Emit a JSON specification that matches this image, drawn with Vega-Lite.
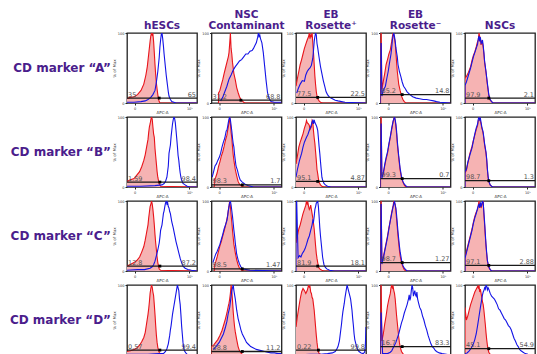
{
"$schema": "https://vega.github.io/schema/vega-lite/v6.json",
"padding": {"left": 9, "top": 9, "right": 0, "bottom": 0},
"bounds": "flush",
"data": {"values": [
{"k":"c","m":"A","t":"hESCs","s":"iso","x":[0,4,10,15,20,24,27,29,31,33,34,35,36,37,38,39,40,41,42,43,44,45,46,47,100],"y":[6,8,9,12,18,27,40,52,70,88,96,100,97,99,88,72,55,40,28,20,12,6,2,0,0]},
{"k":"c","m":"A","t":"hESCs","s":"ab","x":[0,10,20,26,30,34,37,40,42,44,46,47,48,49,50,51,52,53,54,55,56,57,58,59,60,62,64,67,70,100],"y":[1,1,2,3,5,8,12,18,30,45,65,80,90,98,100,92,82,70,60,50,40,32,24,16,10,5,2,1,0,0]},
{"k":"c","m":"A","t":"NSC|Contaminant","s":"iso","x":[10,10,12,14,16,18,20,22,24,25,26,27,28,29,30,32,34,36,38,40,42,44,46,48,100],"y":[0,14,18,26,33,42,50,58,66,72,85,100,78,70,58,42,33,22,15,9,5,3,1,0,0]},
{"k":"c","m":"A","t":"NSC|Contaminant","s":"ab","x":[13,16,19,22,25,28,31,34,37,40,43,46,49,52,55,58,60,62,64,66,67,68,69,70,72,74,76,78,80,82,85,90,100],"y":[3,8,16,24,34,40,47,52,56,60,62,66,70,70,74,75,78,82,86,94,100,95,97,92,86,72,52,32,15,7,2,1,1]},
{"k":"c","m":"A","t":"EB|Rosette⁺","s":"iso","x":[0,2,4,6,8,10,12,14,16,18,19,20,21,22,23,24,25,26,27,28,29,30,31,33,35,38,100],"y":[24,35,45,55,62,70,78,84,90,95,100,92,98,94,100,86,72,55,38,26,16,10,6,3,1,0,0]},
{"k":"c","m":"A","t":"EB|Rosette⁺","s":"ab","x":[1,3,6,9,12,14,16,18,20,22,24,25,26,27,28,29,30,31,32,33,35,37,39,41,43,45,48,52,56,60,65,70,100],"y":[14,20,27,32,31,40,45,48,50,54,64,75,88,95,100,97,85,79,72,65,52,42,32,24,16,12,8,6,4,3,2,1,0]},
{"k":"c","m":"A","t":"EB|Rosette⁻","s":"iso","x":[0,0,1,2,4,6,8,10,12,14,16,17,18,19,20,21,22,23,24,25,26,28,30,32,34,36,100],"y":[0,100,100,20,31,42,55,62,70,76,88,95,100,98,92,86,72,58,45,36,27,18,10,5,2,0,0]},
{"k":"c","m":"A","t":"EB|Rosette⁻","s":"ab","x":[0,0,1,2,4,7,9,11,13,15,16,17,18,19,20,21,22,23,24,25,27,29,31,33,35,38,42,46,51,56,61,66,71,76,80,85,100],"y":[0,85,85,10,18,24,35,45,58,70,79,90,96,100,95,88,79,72,66,55,45,38,30,24,21,16,12,9,7,6,5,5,4,3,2,1,0]},
{"k":"c","m":"A","t":"NSCs","s":"iso","x":[0,0,2,5,8,10,12,14,16,18,19,20,21,22,23,24,25,26,27,28,30,32,34,36,38,40,100],"y":[0,35,38,44,52,61,68,73,80,88,90,100,95,92,83,88,86,80,70,58,44,26,11,4,2,0,0]},
{"k":"c","m":"A","t":"NSCs","s":"ab","x":[0,0,2,5,8,10,12,14,16,18,19,20,21,22,23,24,25,26,27,28,30,32,34,36,38,40,100],"y":[0,25,30,40,50,58,66,72,78,84,92,96,88,94,85,86,90,82,72,60,45,28,12,5,2,0,0]},
{"k":"c","m":"B","t":"hESCs","s":"iso","x":[0,4,10,14,18,21,24,26,28,30,31,32,33,34,35,36,37,38,39,40,41,42,43,44,45,46,48,100],"y":[8,10,12,17,22,29,38,46,57,68,78,86,90,96,100,97,86,76,71,55,44,33,22,14,9,5,1,0]},
{"k":"c","m":"B","t":"hESCs","s":"ab","x":[0,20,40,50,53,55,57,59,60,62,63,64,65,66,67,68,69,70,71,72,73,74,75,76,77,78,80,83,86,90,100],"y":[1,1,2,3,5,8,14,30,48,60,72,81,90,96,100,98,92,81,70,58,45,38,28,20,14,10,5,3,1,0,0]},
{"k":"c","m":"B","t":"NSC|Contaminant","s":"iso","x":[4,4,6,8,10,12,14,16,18,20,22,23,24,25,26,27,28,29,30,31,32,34,36,38,40,42,45,100],"y":[0,10,14,20,29,36,44,50,58,67,74,80,86,92,100,90,78,70,57,46,38,25,16,8,4,2,0,0]},
{"k":"c","m":"B","t":"NSC|Contaminant","s":"ab","x":[1,3,5,7,9,11,13,15,17,19,21,22,23,24,25,26,27,28,29,30,31,32,33,34,35,37,39,41,44,48,52,60,100],"y":[14,22,30,33,38,42,48,57,64,70,80,81,86,92,97,100,96,88,80,70,62,57,46,38,30,24,16,10,7,4,2,0,0]},
{"k":"c","m":"B","t":"EB|Rosette⁺","s":"iso","x":[0,2,4,6,8,10,12,14,15,16,18,19,20,22,23,24,25,26,27,28,29,30,31,32,33,35,37,40,100],"y":[33,44,57,64,70,76,84,90,95,92,90,88,82,86,95,93,80,70,62,50,38,25,19,12,7,3,1,0,0]},
{"k":"c","m":"B","t":"EB|Rosette⁺","s":"ab","x":[0,2,5,8,10,12,15,17,19,21,23,24,25,26,27,28,29,30,31,32,33,34,35,36,37,38,40,42,45,50,100],"y":[14,25,38,48,57,64,71,75,81,86,93,95,90,96,92,90,88,85,81,70,58,48,36,25,14,10,5,3,1,0,0]},
{"k":"c","m":"B","t":"EB|Rosette⁻","s":"iso","x":[0,0,1,2,4,6,8,10,12,14,16,18,19,20,21,22,23,24,25,26,27,28,30,32,34,36,100],"y":[0,100,100,15,19,30,40,48,60,71,82,93,98,100,95,86,76,62,52,42,33,24,13,7,3,0,0]},
{"k":"c","m":"B","t":"EB|Rosette⁻","s":"ab","x":[0,0,1,2,4,6,8,10,12,14,16,18,19,20,21,22,23,24,25,26,27,28,30,32,34,36,38,100],"y":[0,90,90,12,20,32,42,50,62,72,84,94,97,100,96,90,80,66,55,45,36,27,15,8,4,2,0,0]},
{"k":"c","m":"B","t":"NSCs","s":"iso","x":[0,0,2,4,7,10,12,14,16,18,19,20,21,22,23,24,25,26,27,28,30,31,32,33,34,36,38,40,100],"y":[0,20,24,34,48,58,67,74,82,88,95,96,100,94,90,84,81,76,68,60,48,38,24,14,8,3,1,0,0]},
{"k":"c","m":"B","t":"NSCs","s":"ab","x":[0,0,2,4,7,10,12,14,16,18,19,20,21,22,23,24,25,26,27,28,30,31,32,33,34,36,38,40,100],"y":[0,22,25,35,46,56,66,76,84,90,97,100,96,98,92,86,82,78,70,62,50,40,26,15,8,3,1,0,0]},
{"k":"c","m":"C","t":"hESCs","s":"iso","x":[0,4,10,14,18,21,24,26,28,30,31,32,33,34,35,36,37,38,39,40,41,42,43,44,45,46,48,100],"y":[7,9,12,15,20,27,35,44,55,66,76,84,92,95,100,96,88,78,66,52,40,30,20,12,7,3,1,0]},
{"k":"c","m":"C","t":"hESCs","s":"ab","x":[0,15,25,33,36,38,40,42,44,46,47,48,50,51,52,53,54,55,56,57,58,59,60,61,62,63,64,66,68,70,72,74,76,78,80,83,87,92,100],"y":[1,2,2,4,6,9,14,22,30,40,48,58,66,74,82,86,92,97,100,96,98,92,90,85,82,76,70,62,52,42,34,26,18,12,7,4,2,1,0]},
{"k":"c","m":"C","t":"NSC|Contaminant","s":"iso","x":[4,4,6,8,10,12,14,16,18,20,22,23,24,25,26,27,28,29,30,31,32,34,36,38,40,42,45,100],"y":[0,8,13,20,28,36,42,50,57,65,74,79,87,93,100,92,80,70,58,48,38,26,16,9,4,2,0,0]},
{"k":"c","m":"C","t":"NSC|Contaminant","s":"ab","x":[2,4,6,8,10,12,14,16,18,20,22,23,24,25,26,27,28,29,30,31,32,33,34,35,36,38,40,42,45,50,55,100],"y":[12,18,24,28,33,38,45,52,60,66,72,78,86,92,98,100,94,86,78,68,58,50,40,32,24,16,10,6,3,2,1,0]},
{"k":"c","m":"C","t":"EB|Rosette⁺","s":"iso","x":[0,2,4,6,8,10,12,14,15,16,17,18,19,20,21,22,23,24,25,26,27,28,29,30,31,32,33,35,37,40,100],"y":[40,50,60,66,74,82,88,94,100,96,98,92,88,90,94,88,82,76,68,60,48,36,25,18,12,7,4,2,1,0,0]},
{"k":"c","m":"C","t":"EB|Rosette⁺","s":"ab","x":[0,0,1,3,5,7,9,11,13,15,17,19,21,23,24,25,26,27,28,29,30,31,32,33,34,35,36,37,38,39,40,42,44,48,55,100],"y":[0,100,100,19,22,20,25,28,32,38,45,50,58,66,72,70,78,88,92,97,98,100,92,78,62,50,40,30,20,14,9,5,3,1,0,0]},
{"k":"c","m":"C","t":"EB|Rosette⁻","s":"iso","x":[0,0,1,2,4,6,8,10,12,14,16,18,19,20,21,22,23,24,25,26,27,28,30,32,34,36,100],"y":[0,100,100,14,20,30,40,50,62,72,84,93,100,97,95,86,74,62,50,40,30,22,12,6,2,0,0]},
{"k":"c","m":"C","t":"EB|Rosette⁻","s":"ab","x":[0,0,1,2,4,6,8,10,12,14,16,18,19,20,21,22,23,24,25,26,27,28,30,32,34,36,38,100],"y":[0,95,95,10,18,28,38,48,60,72,82,92,96,100,94,90,80,68,56,46,36,28,16,8,4,2,0,0]},
{"k":"c","m":"C","t":"NSCs","s":"iso","x":[0,0,2,5,8,10,12,14,16,18,20,21,22,23,24,25,26,27,28,29,30,31,32,34,36,38,100],"y":[0,20,28,40,52,60,70,78,84,88,100,92,96,90,94,98,100,80,66,50,36,24,14,5,2,0,0]},
{"k":"c","m":"C","t":"NSCs","s":"ab","x":[0,0,2,5,8,10,12,14,16,18,20,21,22,23,24,25,26,27,28,29,30,31,32,34,36,38,100],"y":[0,18,26,38,50,58,68,76,82,90,96,90,98,92,96,100,98,84,70,54,38,26,15,6,2,0,0]},
{"k":"c","m":"D","t":"hESCs","s":"iso","x":[0,5,10,14,18,21,24,26,28,30,31,32,33,34,35,36,37,38,39,40,41,42,43,44,45,46,48,50,100],"y":[5,6,8,10,14,19,25,32,45,58,66,76,88,95,100,97,90,85,72,58,42,28,18,11,7,4,1,0,0]},
{"k":"c","m":"D","t":"hESCs","s":"ab","x":[0,30,45,52,55,57,59,60,61,62,63,64,65,66,67,68,69,70,71,72,73,74,75,76,77,78,79,80,81,82,84,86,90,100],"y":[1,1,2,2,5,9,16,22,28,36,42,50,58,64,70,76,82,88,94,100,96,92,80,72,58,42,30,18,10,6,3,1,0,0]},
{"k":"c","m":"D","t":"NSC|Contaminant","s":"iso","x":[0,0,3,6,9,12,15,18,20,22,24,25,26,27,28,29,30,31,32,33,34,36,38,40,42,44,46,100],"y":[0,12,14,18,22,28,35,45,52,60,70,74,80,88,100,92,78,62,50,40,33,22,12,6,3,1,0,0]},
{"k":"c","m":"D","t":"NSC|Contaminant","s":"ab","x":[2,5,8,11,14,17,20,22,24,26,27,28,29,30,31,32,33,34,35,36,37,38,40,42,44,46,48,50,53,56,60,64,68,72,76,80,85,90,95,100],"y":[8,10,14,18,24,30,40,48,60,68,76,84,92,96,100,92,86,80,72,64,58,52,44,36,30,26,22,18,15,12,10,8,7,6,5,4,3,3,2,2]},
{"k":"c","m":"D","t":"EB|Rosette⁺","s":"iso","x":[0,2,4,6,8,10,12,14,16,17,18,19,20,21,22,23,24,25,26,27,28,29,30,31,32,33,35,37,100],"y":[40,55,68,80,90,95,92,88,92,96,100,97,98,90,88,82,80,72,64,52,40,28,18,10,5,2,1,0,0]},
{"k":"c","m":"D","t":"EB|Rosette⁺","s":"ab","x":[0,20,35,45,52,56,58,60,62,63,64,65,66,67,68,69,70,71,72,73,74,75,76,77,78,79,80,81,82,83,84,86,88,90,93,96,98,99,100],"y":[0,1,1,2,3,5,8,12,20,28,36,44,54,62,68,74,82,88,94,100,96,92,88,84,80,72,64,52,42,30,22,14,8,5,3,2,4,12,40]},
{"k":"c","m":"D","t":"EB|Rosette⁻","s":"iso","x":[0,0,1,2,4,6,8,10,12,14,15,16,17,18,19,20,21,22,23,24,25,26,27,28,30,32,34,36,100],"y":[0,100,100,20,30,44,56,70,80,88,96,100,96,98,92,88,80,68,56,46,36,26,18,12,5,2,0,0,0]},
{"k":"c","m":"D","t":"EB|Rosette⁻","s":"ab","x":[0,0,1,3,6,10,14,16,18,20,22,24,26,28,30,32,34,36,38,40,41,42,43,44,45,46,47,48,49,50,51,52,53,54,55,56,58,60,62,64,66,68,70,72,74,76,78,80,84,88,94,100],"y":[0,60,60,2,2,2,4,6,10,14,18,24,30,38,46,52,60,66,72,80,86,78,82,92,100,96,84,88,92,86,84,90,80,76,72,68,64,56,50,42,36,28,22,16,12,10,7,5,3,2,1,0]},
{"k":"c","m":"D","t":"NSCs","s":"iso","x":[0,0,2,4,6,8,10,12,14,16,18,19,20,21,22,23,24,25,26,27,28,29,30,31,32,33,34,36,38,100],"y":[0,68,50,56,64,72,78,84,90,94,98,96,100,90,94,88,82,76,72,64,54,44,32,22,14,8,4,1,0,0]},
{"k":"c","m":"D","t":"NSCs","s":"ab","x":[0,3,6,9,12,14,16,18,20,22,24,25,26,27,28,29,30,31,32,33,34,36,38,40,42,44,46,48,50,52,54,56,58,60,62,64,66,68,70,72,74,76,78,80,83,86,90,95,100],"y":[2,3,6,10,16,22,30,42,55,68,80,86,90,92,96,94,100,98,93,96,94,88,84,82,80,76,72,66,64,60,56,52,50,46,42,40,36,30,24,20,15,12,8,6,4,2,1,0,0]},
{"k":"g","m":"A","t":"hESCs","gx":46,"gy":7,"L":"35","R":"65"},
{"k":"g","m":"A","t":"NSC|Contaminant","gx":42,"gy":4,"L":"31.2","R":"68.8"},
{"k":"g","m":"A","t":"EB|Rosette⁺","gx":31,"gy":8,"L":"77.5","R":"22.5"},
{"k":"g","m":"A","t":"EB|Rosette⁻","gx":31,"gy":12,"L":"85.2","R":"14.8"},
{"k":"g","m":"A","t":"NSCs","gx":34,"gy":7,"L":"97.9","R":"2.1"},
{"k":"g","m":"B","t":"hESCs","gx":47,"gy":7,"L":"1.59","R":"98.4"},
{"k":"g","m":"B","t":"NSC|Contaminant","gx":44,"gy":3,"L":"98.3","R":"1.7"},
{"k":"g","m":"B","t":"EB|Rosette⁺","gx":31,"gy":8,"L":"95.1","R":"4.87"},
{"k":"g","m":"B","t":"EB|Rosette⁻","gx":31,"gy":12,"L":"99.3","R":"0.7"},
{"k":"g","m":"B","t":"NSCs","gx":34,"gy":9,"L":"98.7","R":"1.3"},
{"k":"g","m":"C","t":"hESCs","gx":47,"gy":7,"L":"12.8","R":"87.2"},
{"k":"g","m":"C","t":"NSC|Contaminant","gx":44,"gy":3,"L":"98.5","R":"1.47"},
{"k":"g","m":"C","t":"EB|Rosette⁺","gx":31,"gy":7,"L":"81.9","R":"18.1"},
{"k":"g","m":"C","t":"EB|Rosette⁻","gx":31,"gy":12,"L":"98.7","R":"1.27"},
{"k":"g","m":"C","t":"NSCs","gx":34,"gy":8,"L":"97.1","R":"2.88"},
{"k":"g","m":"D","t":"hESCs","gx":47,"gy":7,"L":"0.57","R":"99.4"},
{"k":"g","m":"D","t":"NSC|Contaminant","gx":44,"gy":5,"L":"88.8","R":"11.2"},
{"k":"g","m":"D","t":"EB|Rosette⁺","gx":32,"gy":7,"L":"0.22","R":"99.8"},
{"k":"g","m":"D","t":"EB|Rosette⁻","gx":31,"gy":12,"L":"16.7","R":"83.3"},
{"k":"g","m":"D","t":"NSCs","gx":34,"gy":9,"L":"45.1","R":"54.9"}
]},
"facet": {
  "row": {"field": "m", "type": "nominal", "title": null,
    "header": {"labelAngle": 0, "labelOrient": "left", "labelAlign": "left", "labelExpr": "'CD marker “' + datum.value + '”'", "labelFont": "DejaVu Sans", "labelFontWeight": "bold", "labelFontSize": 12, "labelColor": "#4b1d8c", "labelPadding": 16}},
  "column": {"field": "t", "type": "nominal", "title": null, "sort": ["hESCs", "NSC|Contaminant", "EB|Rosette⁺", "EB|Rosette⁻", "NSCs"],
    "header": {"labelOrient": "top", "labelExpr": "split(datum.value, '|')", "labelFont": "DejaVu Sans", "labelFontWeight": "bold", "labelFontSize": 10.5, "labelLineHeight": 11, "labelColor": "#4b1d8c", "labelBaseline": "bottom", "labelPadding": -8}}
},
"spacing": {"row": 14, "column": 14.5},
"resolve": {"axis": {"x": "independent", "y": "independent"}},
"spec": {
  "width": 70, "height": 70,
  "layer": [
    {"transform": [{"filter": "datum.k == 'c' && datum.s == 'iso'"}, {"flatten": ["x", "y"]}],
     "mark": {"type": "area", "color": "#f6b3b3", "clip": true},
     "encoding": {
       "x": {"field": "x", "type": "quantitative", "scale": {"domain": [0, 100], "nice": false},
         "axis": {"values": [11, 21, 44, 67, 89], "labelExpr": "datum.value == 11 ? '0' : datum.value == 21 ? '10²' : datum.value == 44 ? '10³' : datum.value == 67 ? '10⁴' : '10⁵'", "title": "APC-A"}},
       "y": {"field": "y", "type": "quantitative", "scale": {"domain": [0, 100], "nice": false},
         "axis": {"values": [0, 20, 40, 60, 80, 100], "title": "% of Max"}},
       "order": {"value": null}}},
    {"transform": [{"filter": "datum.k == 'c' && datum.s == 'iso'"}, {"flatten": ["x", "y"]}],
     "mark": {"type": "line", "color": "#e8141b", "strokeWidth": 1.1, "clip": true},
     "encoding": {"x": {"field": "x", "type": "quantitative"}, "y": {"field": "y", "type": "quantitative"}, "order": {"value": null}}},
    {"transform": [{"filter": "datum.k == 'c' && datum.s == 'ab'"}, {"flatten": ["x", "y"]}],
     "mark": {"type": "line", "color": "#1414e6", "strokeWidth": 1.1, "clip": true},
     "encoding": {"x": {"field": "x", "type": "quantitative"}, "y": {"field": "y", "type": "quantitative"}, "order": {"value": null}}},
    {"transform": [{"filter": "datum.k == 'g'"}],
     "mark": {"type": "rule", "color": "#1a1a1a", "strokeWidth": 1.3},
     "encoding": {"y": {"field": "gy", "type": "quantitative"}}},
    {"transform": [{"filter": "datum.k == 'g'"}],
     "mark": {"type": "point", "shape": "square", "filled": true, "color": "#000", "size": 8, "opacity": 1},
     "encoding": {"x": {"field": "gx", "type": "quantitative"}, "y": {"field": "gy", "type": "quantitative"}}},
    {"transform": [{"filter": "datum.k == 'g'"}],
     "mark": {"type": "text", "align": "left", "baseline": "bottom", "dy": -0.5, "dx": 1, "fontSize": 6.5, "font": "DejaVu Sans", "color": "#555"},
     "encoding": {"x": {"datum": 0, "type": "quantitative"}, "y": {"field": "gy", "type": "quantitative"}, "text": {"field": "L"}}},
    {"transform": [{"filter": "datum.k == 'g'"}],
     "mark": {"type": "text", "align": "right", "baseline": "bottom", "dy": -0.5, "dx": -1, "fontSize": 6.5, "font": "DejaVu Sans", "color": "#555"},
     "encoding": {"x": {"datum": 100, "type": "quantitative"}, "y": {"field": "gy", "type": "quantitative"}, "text": {"field": "R"}}}
  ]
},
"config": {
  "view": {"stroke": "#222", "strokeWidth": 1.3},
  "axis": {"grid": false, "domain": false, "tickSize": 2, "tickColor": "#222", "labelFontSize": 3.5, "labelFont": "DejaVu Sans", "labelColor": "#333", "labelPadding": 1, "titleFontSize": 4, "titleFont": "DejaVu Sans", "titleFontWeight": "normal", "titleColor": "#333", "titlePadding": 1, "labelOverlap": false}
}
}
